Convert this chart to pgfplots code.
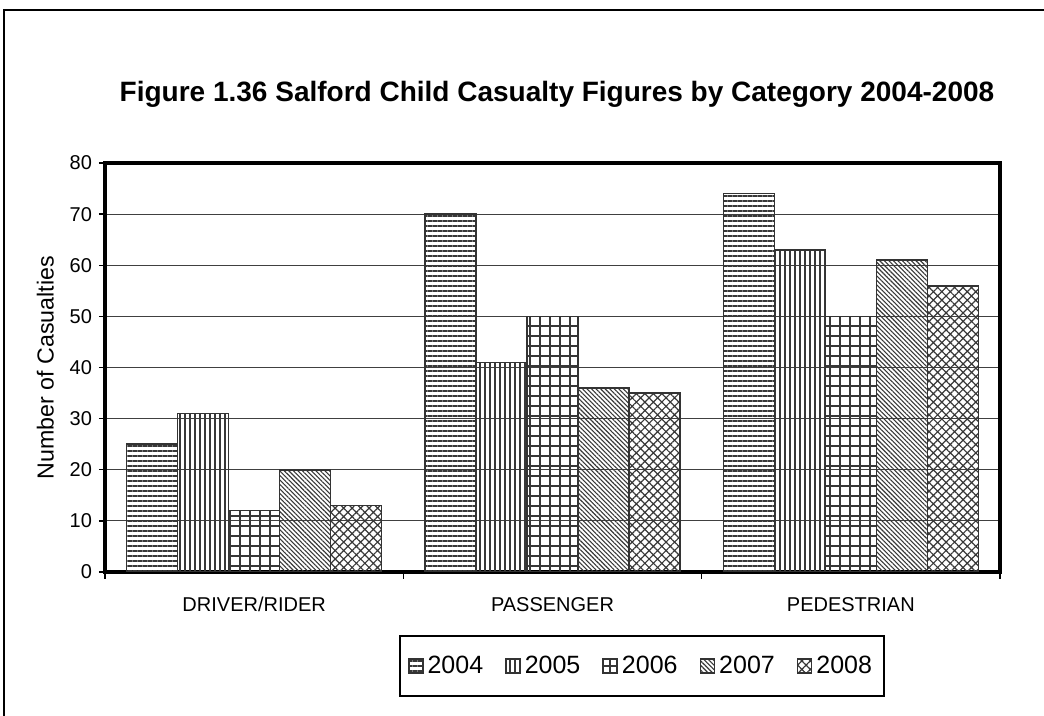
\documentclass[border=0pt]{standalone}
\usepackage{fontspec}
\setmainfont{Liberation Sans}
\usepackage{pgfplots}
\pgfplotsset{compat=1.18}
\usetikzlibrary{patterns.meta}
\definecolor{pat}{HTML}{383838}
\definecolor{barline}{HTML}{333333}
\begin{document}
\begin{tikzpicture}
\clip (0,0) rectangle (522pt,358pt);
\draw[line width=1pt] (2pt,-5pt) rectangle (530pt,353pt);
\node[font=\bfseries\fontsize{14}{16}\selectfont] at (278.5pt,311pt) {Figure 1.36 Salford Child Casualty Figures by Category 2004-2008};
\begin{axis}[
  at={(52.5pt,72pt)}, anchor=south west,
  scale only axis, width=447.5pt, height=204.5pt,
  xmin=-0.5, xmax=2.5, ymin=0, ymax=80,
  ytick={0,10,...,80},
  xtick={0,1,2}, xticklabels={DRIVER/RIDER,PASSENGER,PEDESTRIAN},
  minor xtick={-0.5,0.5,1.5,2.5},
  major x tick style={draw=none},
  xtick pos=bottom, ytick pos=left,
  tick align=outside,
  major tick length=3pt, minor tick length=3.5pt,
  tick style={line width=0.75pt, black},
  ymajorgrids, grid style={line width=0.5pt, color=black!75},
  axis line style={line width=2pt},
  xticklabel style={font=\fontsize{10}{12}\selectfont, yshift=-6pt},
  yticklabel style={font=\fontsize{10}{12}\selectfont},
  /pgf/number format/assume math mode=true,
  ylabel={Number of Casualties},
  ylabel style={font=\fontsize{11.6}{13}\selectfont, yshift=1pt},
  ybar=0pt, bar width=25.5pt,
  legend style={at={(0.600,-0.153)}, anchor=north, legend columns=5,
    draw=black, line width=1pt, font=\fontsize{12.5}{15}\selectfont,
    inner xsep=4pt, inner ysep=8pt,
    /tikz/every even column/.append style={column sep=9pt}},
  legend image code/.code={\draw[#1, line width=0.8pt] (0pt,-3.5pt) rectangle (7pt,3.5pt);},
  every axis plot/.append style={draw=barline, line width=0.8pt, pattern color=pat},
]
\addplot[pattern={Lines[angle=0,distance=2.5pt,line width=0.6pt]}] coordinates {(0,25) (1,70) (2,74)};
\addplot[pattern={Lines[angle=90,distance=2.5pt,line width=0.6pt]}] coordinates {(0,31) (1,41) (2,63)};
\addplot[pattern={Hatch[angle=0,distance=5pt,line width=0.6pt]}] coordinates {(0,12) (1,50) (2,50)};
\addplot[pattern={Lines[angle=-45,distance=1.6pt,line width=0.55pt]}] coordinates {(0,20) (1,36) (2,61)};
\addplot[pattern={Hatch[angle=45,distance=3pt,line width=0.6pt]}] coordinates {(0,13) (1,35) (2,56)};
\legend{2004,2005,2006,2007,2008}
\end{axis}
\end{tikzpicture}
\end{document}
